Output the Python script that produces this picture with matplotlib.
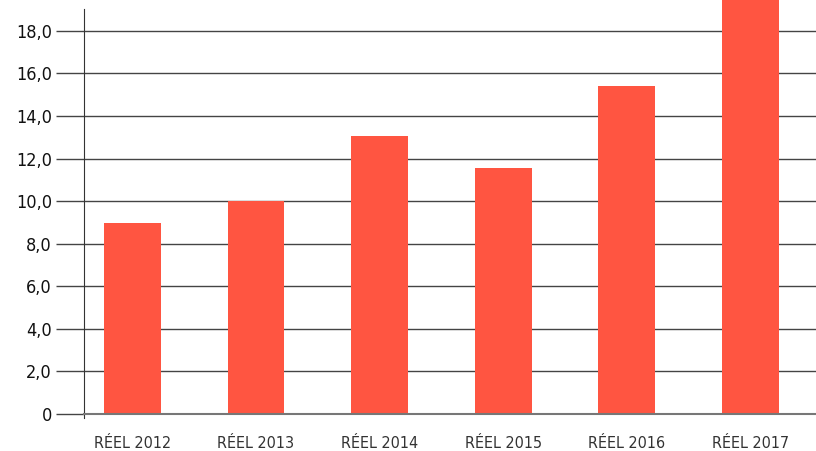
import matplotlib.pyplot as plt
from matplotlib import font_manager

categories = ["RÉEL 2012", "RÉEL 2013", "RÉEL 2014", "RÉEL 2015", "RÉEL 2016", "RÉEL 2017"]
values = [8.95, 10.0, 13.05, 11.55, 15.4, 20.5]
yticks = [0, 2, 4, 6, 8, 10, 12, 14, 16, 18]
ytick_labels = ["0", "2,0", "4,0", "6,0", "8,0", "10,0", "12,0", "14,0", "16,0", "18,0"]

names = {f.name for f in font_manager.fontManager.ttflist}
narrow = [n for n in ["Liberation Sans Narrow", "DejaVu Sans Condensed"] if n in names]
plt.rcParams["font.family"] = narrow + ["DejaVu Sans"]
plt.rcParams["font.stretch"] = "condensed"

fig = plt.figure(figsize=(8.16, 4.51), dpi=100)
ax = fig.add_axes([84 / 816, 1 - 414 / 451, 1 - 84 / 816, 414 / 451])

x = range(len(categories))
ax.bar(x, values, width=0.46, color="#ff5541", zorder=3)

ax.set_xlim(-0.392, 5.53)
ax.set_ylim(0, 19.45)
ax.set_yticks(yticks)
ax.set_yticklabels(ytick_labels, fontsize=13, color="#111111")
ax.set_xticks(list(x))
ax.set_xticklabels(categories, fontsize=11.5, color="#333333")

ax.yaxis.grid(True, color="#444444", linewidth=1, zorder=0)
ax.tick_params(axis="y", length=20, width=1, color="#444444", pad=3)
ax.tick_params(axis="x", length=0, pad=16)

for side in ["top", "right"]:
    ax.spines[side].set_visible(False)
ax.spines["left"].set_bounds(-0.2, 19.05)
ax.spines["left"].set_color("#333333")
ax.spines["bottom"].set_color("#777777")
ax.spines["bottom"].set_linewidth(1.5)
ax.spines["bottom"].set_zorder(4)

fig.savefig("out.png", dpi=100)
